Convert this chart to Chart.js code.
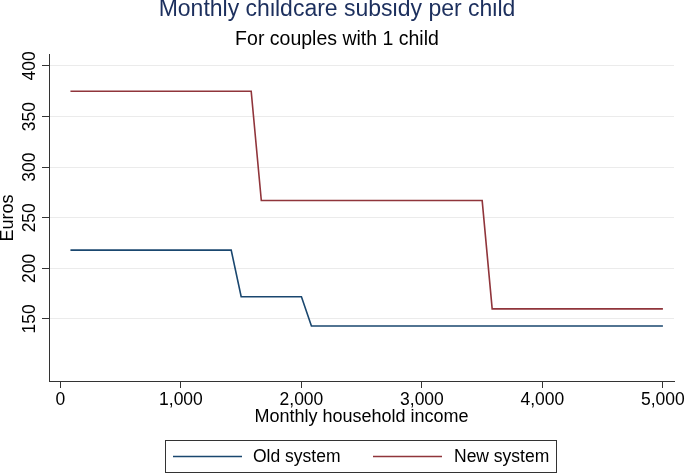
<!DOCTYPE html>
<html>
<head>
<meta charset="utf-8">
<script src="https://cdn.jsdelivr.net/npm/chart.js@4/dist/chart.umd.min.js"></script>
<style>
  html, body { margin: 0; padding: 0; background: #ffffff; }
  #wrap { width: 685px; height: 474px; }
</style>
</head>
<body>
<div id="wrap"><canvas id="c" width="685" height="474"></canvas></div>
<script>
// ---- data ----
const seriesNames = ['Old system', 'New system'];
const oldIncome = [83, 1417, 1500, 2000, 2083, 5000];
const oldSubsidy = [218, 218, 172, 172, 143, 143];
const newIncome = [83, 1583, 1667, 3500, 3583, 5000];
const newSubsidy = [375, 375, 267, 267, 160, 160];
const xTickValues = [0, 1000, 2000, 3000, 4000, 5000];
const xTickLabels = ['0', '1,000', '2,000', '3,000', '4,000', '5,000'];
const yTickValues = [150, 200, 250, 300, 350, 400];
const yTickLabels = ['150', '200', '250', '300', '350', '400'];
const titleText = 'Monthly childcare subsidy per child';
const subtitleText = 'For couples with 1 child';
const xTitle = 'Monthly household income';
const yTitle = 'Euros';

const FONT = '"Liberation Sans", Arial, Helvetica, sans-serif';
const colors = ['#1a476f', '#90353b'];

const yTickPlugin = {
  id: 'yTickLabels',
  afterDraw(chart) {
    const ctx = chart.ctx;
    const ys = chart.scales.y;
    ctx.save();
    ctx.fillStyle = '#000';
    ctx.font = '17.5px ' + FONT;
    ctx.textAlign = 'center';
    ctx.textBaseline = 'alphabetic';
    yTickValues.forEach((v, i) => {
      const py = ys.getPixelForValue(v);
      ctx.save();
      ctx.translate(35, py);
      ctx.rotate(-Math.PI / 2);
      ctx.fillText(yTickLabels[i], 0, 0);
      ctx.restore();
    });
    ctx.restore();
  }
};

const legendPlugin = {
  id: 'boxLegend',
  afterDraw(chart) {
    const ctx = chart.ctx;
    ctx.save();
    ctx.strokeStyle = '#333';
    ctx.lineWidth = 1;
    ctx.strokeRect(165.5, 440.5, 391, 32);
    const lineStarts = [173, 373];
    const textStarts = [253, 454];
    ctx.font = '17.5px ' + FONT;
    ctx.textBaseline = 'middle';
    ctx.textAlign = 'left';
    chart.data.datasets.forEach((ds, i) => {
      ctx.strokeStyle = ds.borderColor;
      ctx.lineWidth = 1.6;
      ctx.beginPath();
      ctx.moveTo(lineStarts[i], 456.5);
      ctx.lineTo(lineStarts[i] + 69, 456.5);
      ctx.stroke();
      ctx.fillStyle = '#000';
      ctx.fillText(ds.label, textStarts[i], 457);
    });
    ctx.restore();
  }
};

new Chart(document.getElementById('c'), {
  type: 'line',
  data: {
    datasets: [
      {
        label: seriesNames[0],
        data: oldIncome.map((x, i) => ({ x: x, y: oldSubsidy[i] })),
        borderColor: colors[0],
        backgroundColor: colors[0],
        borderWidth: 1.6,
        pointRadius: 0,
        tension: 0,
        fill: false
      },
      {
        label: seriesNames[1],
        data: newIncome.map((x, i) => ({ x: x, y: newSubsidy[i] })),
        borderColor: colors[1],
        backgroundColor: colors[1],
        borderWidth: 1.6,
        pointRadius: 0,
        tension: 0,
        fill: false
      }
    ]
  },
  options: {
    responsive: false,
    animation: false,
    devicePixelRatio: 1,
    layout: { padding: { left: 0, right: 11, top: 0, bottom: 0 } },
    plugins: {
      legend: { display: false },
      tooltip: { enabled: false },
      title: {
        display: true,
        text: titleText,
        color: '#1c2f5d',
        font: { family: FONT, size: 23, weight: 'normal', lineHeight: 0.83 },
        padding: { top: 0, bottom: 10.6 }
      },
      subtitle: {
        display: true,
        text: subtitleText,
        color: '#000',
        font: { family: FONT, size: 19.5, weight: 'normal', lineHeight: 1 },
        padding: { top: 0, bottom: 5.75 }
      }
    },
    scales: {
      x: {
        type: 'linear',
        min: -95,
        max: 5092,
        afterBuildTicks: (s) => { s.ticks = xTickValues.map(v => ({ value: v })); },
        afterFit: (s) => { s.height = 93; s.paddingLeft = 0; s.paddingRight = 0; },
        ticks: {
          color: '#000',
          font: { family: FONT, size: 17.5 },
          padding: 2,
          maxRotation: 0,
          minRotation: 0,
          autoSkip: false,
          callback: (v) => { const i = xTickValues.indexOf(v); return i >= 0 ? xTickLabels[i] : ''; }
        },
        grid: { drawOnChartArea: false, drawTicks: true, tickLength: 7, tickColor: '#333', color: '#333' },
        border: { display: true, color: '#333', width: 1 },
        title: {
          display: true,
          text: xTitle,
          color: '#000',
          font: { family: FONT, size: 18, lineHeight: 1 },
          padding: { top: 0, bottom: 47.5 }
        }
      },
      y: {
        type: 'linear',
        min: 88.7,
        max: 410.9,
        afterBuildTicks: (s) => { s.ticks = yTickValues.map(v => ({ value: v })); },
        afterFit: (s) => { s.width = 49; s.paddingTop = 0; s.paddingBottom = 0; },
        ticks: { display: false },
        grid: { drawOnChartArea: true, drawTicks: true, tickLength: 7, color: '#ebebeb', tickColor: '#333', lineWidth: 1 },
        border: { display: true, color: '#333', width: 1 },
        title: {
          display: true,
          text: yTitle,
          color: '#000',
          font: { family: FONT, size: 18, lineHeight: 0.9 },
          padding: { top: 0, bottom: 0 }
        }
      }
    }
  },
  plugins: [yTickPlugin, legendPlugin]
});
</script>
</body>
</html>
